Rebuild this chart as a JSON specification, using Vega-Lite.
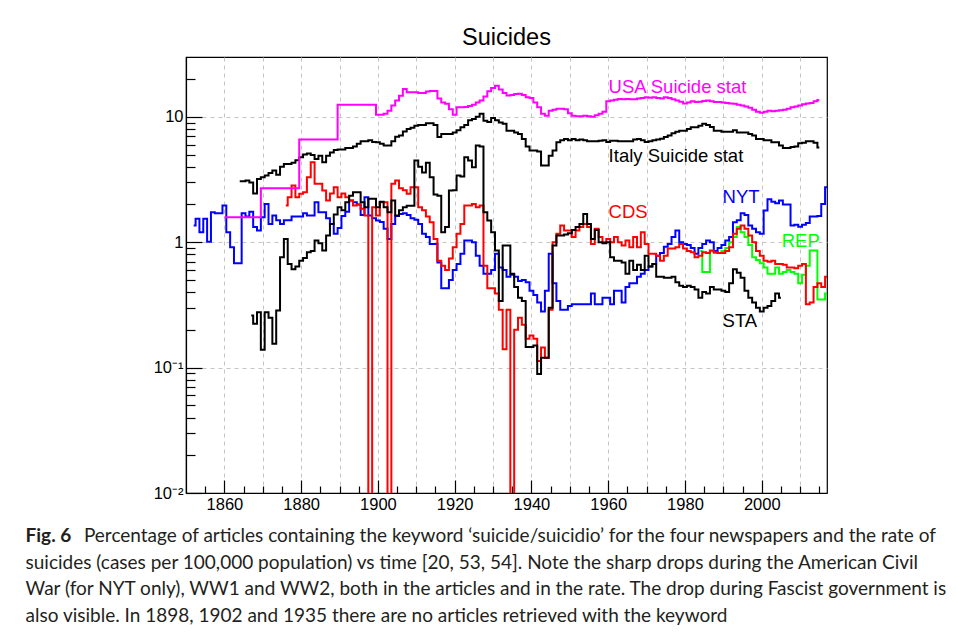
{
"$schema": "https://vega.github.io/schema/vega-lite/v6.json",
"background": "white",
"padding": {"left": 25, "top": 24, "right": 5, "bottom": 0},
"title": {
  "text": "Fig. 6",
  "subtitle": ["\u200b\u00a0\u00a0\u00a0\u00a0\u00a0\u00a0\u00a0\u00a0\u00a0\u00a0\u00a0\u00a0Percentage of articles containing the keyword \u2018suicide/suicidio\u2019 for the four newspapers and the rate of", "suicides (cases per 100,000 population) vs time [20, 53, 54]. Note the sharp drops during the American Civil", "War (for NYT only), WW1 and WW2, both in the articles and in the rate. The drop during Fascist government is", "also visible. In 1898, 1902 and 1935 there are no articles retrieved with the keyword"],
  "orient": "bottom", "anchor": "start", "frame": "bounds",
  "font": "Lato", "fontSize": 19, "fontWeight": "bold", "color": "#231f20",
  "subtitleFont": "Lato", "subtitleFontSize": 19, "subtitleFontWeight": "normal", "subtitleColor": "#231f20",
  "subtitleLineHeight": 26.7, "subtitlePadding": -19, "offset": 14, "dx": -127
},
"datasets": {
"labels": [
 {"series":"USA","label":"USA Suicide stat","year":1960.1,"value":15.4},
 {"series":"Italy","label":"Italy Suicide stat","year":1960.1,"value":4.4},
 {"series":"CDS","label":"CDS","year":1960.1,"value":1.55},
 {"series":"NYT","label":"NYT","year":1989.8,"value":2.05},
 {"series":"REP","label":"REP","year":2005.2,"value":0.912},
 {"series":"STA","label":"STA","year":1989.8,"value":0.21}
],
"curves": [
{"series":"REP","year":1984,"value":0.85},{"series":"REP","year":1985,"value":0.58},{"series":"REP","year":1986,"value":0.58},{"series":"REP","year":1987,"value":0.85},{"series":"REP","year":1988,"value":0.82},{"series":"REP","year":1989,"value":0.82},{"series":"REP","year":1990,"value":0.85},{"series":"REP","year":1991,"value":0.9},{"series":"REP","year":1992,"value":1.0},{"series":"REP","year":1993,"value":1.1},{"series":"REP","year":1994,"value":1.32},{"series":"REP","year":1995,"value":1.2},{"series":"REP","year":1996,"value":1.1},{"series":"REP","year":1997,"value":0.95},{"series":"REP","year":1998,"value":0.76},{"series":"REP","year":1999,"value":0.72},{"series":"REP","year":2000,"value":0.68},{"series":"REP","year":2001,"value":0.63},{"series":"REP","year":2002,"value":0.56},{"series":"REP","year":2003,"value":0.56},{"series":"REP","year":2004,"value":0.63},{"series":"REP","year":2005,"value":0.56},{"series":"REP","year":2006,"value":0.58},{"series":"REP","year":2007,"value":0.6},{"series":"REP","year":2008,"value":0.58},{"series":"REP","year":2009,"value":0.56},{"series":"REP","year":2010,"value":0.47},{"series":"REP","year":2011,"value":0.55},{"series":"REP","year":2012,"value":0.65},{"series":"REP","year":2013,"value":0.86},{"series":"REP","year":2014,"value":0.86},{"series":"REP","year":2015,"value":0.35},{"series":"REP","year":2016,"value":0.35},{"series":"REP","year":2017,"value":0.39},
{"series":"NYT","year":1852,"value":1.36},{"series":"NYT","year":1853,"value":1.54},{"series":"NYT","year":1854,"value":1.2},{"series":"NYT","year":1855,"value":1.54},{"series":"NYT","year":1856,"value":1.01},{"series":"NYT","year":1857,"value":1.73},{"series":"NYT","year":1858,"value":1.7},{"series":"NYT","year":1859,"value":1.7},{"series":"NYT","year":1860,"value":1.96},{"series":"NYT","year":1861,"value":1.2},{"series":"NYT","year":1862,"value":0.91},{"series":"NYT","year":1863,"value":0.68},{"series":"NYT","year":1864,"value":0.68},{"series":"NYT","year":1865,"value":1.7},{"series":"NYT","year":1866,"value":1.6},{"series":"NYT","year":1867,"value":1.75},{"series":"NYT","year":1868,"value":1.32},{"series":"NYT","year":1869,"value":1.24},{"series":"NYT","year":1870,"value":1.58},{"series":"NYT","year":1871,"value":2.02},{"series":"NYT","year":1872,"value":1.4},{"series":"NYT","year":1873,"value":1.63},{"series":"NYT","year":1874,"value":1.5},{"series":"NYT","year":1875,"value":1.4},{"series":"NYT","year":1876,"value":1.5},{"series":"NYT","year":1877,"value":1.5},{"series":"NYT","year":1878,"value":1.6},{"series":"NYT","year":1879,"value":1.6},{"series":"NYT","year":1880,"value":1.6},{"series":"NYT","year":1881,"value":1.7},{"series":"NYT","year":1882,"value":1.63},{"series":"NYT","year":1883,"value":1.63},{"series":"NYT","year":1884,"value":2.08},{"series":"NYT","year":1885,"value":1.73},{"series":"NYT","year":1886,"value":1.73},{"series":"NYT","year":1887,"value":1.55},{"series":"NYT","year":1888,"value":1.4},{"series":"NYT","year":1889,"value":1.17},{"series":"NYT","year":1890,"value":1.3},{"series":"NYT","year":1891,"value":1.62},{"series":"NYT","year":1892,"value":1.75},{"series":"NYT","year":1893,"value":2.15},{"series":"NYT","year":1894,"value":2.08},{"series":"NYT","year":1895,"value":2.0},{"series":"NYT","year":1896,"value":1.65},{"series":"NYT","year":1897,"value":2.28},{"series":"NYT","year":1898,"value":1.63},{"series":"NYT","year":1899,"value":1.55},{"series":"NYT","year":1900,"value":1.49},{"series":"NYT","year":1901,"value":1.45},{"series":"NYT","year":1902,"value":1.28},{"series":"NYT","year":1903,"value":1.06},{"series":"NYT","year":1904,"value":1.4},{"series":"NYT","year":1905,"value":1.62},{"series":"NYT","year":1906,"value":1.68},{"series":"NYT","year":1907,"value":1.7},{"series":"NYT","year":1908,"value":1.65},{"series":"NYT","year":1909,"value":1.55},{"series":"NYT","year":1910,"value":1.51},{"series":"NYT","year":1911,"value":1.4},{"series":"NYT","year":1912,"value":1.17},{"series":"NYT","year":1913,"value":1.1},{"series":"NYT","year":1914,"value":0.97},{"series":"NYT","year":1915,"value":0.97},{"series":"NYT","year":1916,"value":0.69},{"series":"NYT","year":1917,"value":0.43},{"series":"NYT","year":1918,"value":0.43},{"series":"NYT","year":1919,"value":0.5},{"series":"NYT","year":1920,"value":0.6},{"series":"NYT","year":1921,"value":0.67},{"series":"NYT","year":1922,"value":0.81},{"series":"NYT","year":1923,"value":1.03},{"series":"NYT","year":1924,"value":1.03},{"series":"NYT","year":1925,"value":1.0},{"series":"NYT","year":1926,"value":0.78},{"series":"NYT","year":1927,"value":0.65},{"series":"NYT","year":1928,"value":0.56},{"series":"NYT","year":1929,"value":0.56},{"series":"NYT","year":1930,"value":0.6},{"series":"NYT","year":1931,"value":0.81},{"series":"NYT","year":1932,"value":0.63},{"series":"NYT","year":1933,"value":0.6},{"series":"NYT","year":1934,"value":0.53},{"series":"NYT","year":1935,"value":0.55},{"series":"NYT","year":1936,"value":0.53},{"series":"NYT","year":1937,"value":0.49},{"series":"NYT","year":1938,"value":0.5},{"series":"NYT","year":1939,"value":0.48},{"series":"NYT","year":1940,"value":0.41},{"series":"NYT","year":1941,"value":0.38},{"series":"NYT","year":1942,"value":0.33},{"series":"NYT","year":1943,"value":0.28},{"series":"NYT","year":1944,"value":0.41},{"series":"NYT","year":1945,"value":0.81},{"series":"NYT","year":1946,"value":0.47},{"series":"NYT","year":1947,"value":0.34},{"series":"NYT","year":1948,"value":0.29},{"series":"NYT","year":1949,"value":0.29},{"series":"NYT","year":1950,"value":0.31},{"series":"NYT","year":1951,"value":0.32},{"series":"NYT","year":1952,"value":0.32},{"series":"NYT","year":1953,"value":0.32},{"series":"NYT","year":1954,"value":0.32},{"series":"NYT","year":1955,"value":0.32},{"series":"NYT","year":1956,"value":0.39},{"series":"NYT","year":1957,"value":0.32},{"series":"NYT","year":1958,"value":0.32},{"series":"NYT","year":1959,"value":0.36},{"series":"NYT","year":1960,"value":0.36},{"series":"NYT","year":1961,"value":0.32},{"series":"NYT","year":1962,"value":0.41},{"series":"NYT","year":1963,"value":0.41},{"series":"NYT","year":1964,"value":0.33},{"series":"NYT","year":1965,"value":0.44},{"series":"NYT","year":1966,"value":0.47},{"series":"NYT","year":1967,"value":0.47},{"series":"NYT","year":1968,"value":0.53},{"series":"NYT","year":1969,"value":0.56},{"series":"NYT","year":1970,"value":0.6},{"series":"NYT","year":1971,"value":0.64},{"series":"NYT","year":1972,"value":0.67},{"series":"NYT","year":1973,"value":0.78},{"series":"NYT","year":1974,"value":0.82},{"series":"NYT","year":1975,"value":0.92},{"series":"NYT","year":1976,"value":0.97},{"series":"NYT","year":1977,"value":1.1},{"series":"NYT","year":1978,"value":1.24},{"series":"NYT","year":1979,"value":1.0},{"series":"NYT","year":1980,"value":0.97},{"series":"NYT","year":1981,"value":0.95},{"series":"NYT","year":1982,"value":0.9},{"series":"NYT","year":1983,"value":0.81},{"series":"NYT","year":1984,"value":0.9},{"series":"NYT","year":1985,"value":0.97},{"series":"NYT","year":1986,"value":1.03},{"series":"NYT","year":1987,"value":1.0},{"series":"NYT","year":1988,"value":0.85},{"series":"NYT","year":1989,"value":0.9},{"series":"NYT","year":1990,"value":0.95},{"series":"NYT","year":1991,"value":1.03},{"series":"NYT","year":1992,"value":1.1},{"series":"NYT","year":1993,"value":1.44},{"series":"NYT","year":1994,"value":1.5},{"series":"NYT","year":1995,"value":1.7},{"series":"NYT","year":1996,"value":1.65},{"series":"NYT","year":1997,"value":1.36},{"series":"NYT","year":1998,"value":1.28},{"series":"NYT","year":1999,"value":1.2},{"series":"NYT","year":2000,"value":1.17},{"series":"NYT","year":2001,"value":1.79},{"series":"NYT","year":2002,"value":2.2},{"series":"NYT","year":2003,"value":2.1},{"series":"NYT","year":2004,"value":2.05},{"series":"NYT","year":2005,"value":2.15},{"series":"NYT","year":2006,"value":2.0},{"series":"NYT","year":2007,"value":2.0},{"series":"NYT","year":2008,"value":1.36},{"series":"NYT","year":2009,"value":1.38},{"series":"NYT","year":2010,"value":1.33},{"series":"NYT","year":2011,"value":1.38},{"series":"NYT","year":2012,"value":1.42},{"series":"NYT","year":2013,"value":1.6},{"series":"NYT","year":2014,"value":1.6},{"series":"NYT","year":2015,"value":1.62},{"series":"NYT","year":2016,"value":2.02},{"series":"NYT","year":2017,"value":2.74},
{"series":"CDS","year":1876,"value":1.96},{"series":"CDS","year":1877,"value":2.28},{"series":"CDS","year":1878,"value":2.83},{"series":"CDS","year":1879,"value":2.28},{"series":"CDS","year":1880,"value":2.43},{"series":"CDS","year":1881,"value":2.5},{"series":"CDS","year":1882,"value":3.3},{"series":"CDS","year":1883,"value":4.34},{"series":"CDS","year":1884,"value":2.92},{"series":"CDS","year":1885,"value":2.92},{"series":"CDS","year":1886,"value":2.58},{"series":"CDS","year":1887,"value":2.15},{"series":"CDS","year":1888,"value":2.45},{"series":"CDS","year":1889,"value":2.74},{"series":"CDS","year":1890,"value":2.28},{"series":"CDS","year":1891,"value":2.45},{"series":"CDS","year":1892,"value":2.28},{"series":"CDS","year":1893,"value":2.15},{"series":"CDS","year":1894,"value":1.96},{"series":"CDS","year":1895,"value":2.0},{"series":"CDS","year":1896,"value":1.85},{"series":"CDS","year":1897,"value":1.63},{"series":"CDS","year":1898,"value":0.0001},{"series":"CDS","year":1899,"value":1.9},{"series":"CDS","year":1900,"value":1.63},{"series":"CDS","year":1901,"value":2.08},{"series":"CDS","year":1902,"value":2.08},{"series":"CDS","year":1903,"value":0.0001},{"series":"CDS","year":1904,"value":2.92},{"series":"CDS","year":1905,"value":3.1},{"series":"CDS","year":1906,"value":2.7},{"series":"CDS","year":1907,"value":2.6},{"series":"CDS","year":1908,"value":2.43},{"series":"CDS","year":1909,"value":2.75},{"series":"CDS","year":1910,"value":2.75},{"series":"CDS","year":1911,"value":1.9},{"series":"CDS","year":1912,"value":1.8},{"series":"CDS","year":1913,"value":1.6},{"series":"CDS","year":1914,"value":1.44},{"series":"CDS","year":1915,"value":1.06},{"series":"CDS","year":1916,"value":0.71},{"series":"CDS","year":1917,"value":0.65},{"series":"CDS","year":1918,"value":0.6},{"series":"CDS","year":1919,"value":0.74},{"series":"CDS","year":1920,"value":0.91},{"series":"CDS","year":1921,"value":1.17},{"series":"CDS","year":1922,"value":1.4},{"series":"CDS","year":1923,"value":1.96},{"series":"CDS","year":1924,"value":1.96},{"series":"CDS","year":1925,"value":2.02},{"series":"CDS","year":1926,"value":1.9},{"series":"CDS","year":1927,"value":1.96},{"series":"CDS","year":1928,"value":0.65},{"series":"CDS","year":1929,"value":0.43},{"series":"CDS","year":1930,"value":0.43},{"series":"CDS","year":1931,"value":0.39},{"series":"CDS","year":1932,"value":0.29},{"series":"CDS","year":1933,"value":0.14},{"series":"CDS","year":1934,"value":0.29},{"series":"CDS","year":1935,"value":0.0001},{"series":"CDS","year":1936,"value":0.2},{"series":"CDS","year":1937,"value":0.25},{"series":"CDS","year":1938,"value":0.22},{"series":"CDS","year":1939,"value":0.17},{"series":"CDS","year":1940,"value":0.18},{"series":"CDS","year":1941,"value":0.17},{"series":"CDS","year":1942,"value":0.113},{"series":"CDS","year":1943,"value":0.145},{"series":"CDS","year":1944,"value":0.12},{"series":"CDS","year":1945,"value":0.29},{"series":"CDS","year":1946,"value":1.0},{"series":"CDS","year":1947,"value":1.17},{"series":"CDS","year":1948,"value":1.36},{"series":"CDS","year":1949,"value":1.24},{"series":"CDS","year":1950,"value":1.24},{"series":"CDS","year":1951,"value":1.1},{"series":"CDS","year":1952,"value":1.24},{"series":"CDS","year":1953,"value":1.32},{"series":"CDS","year":1954,"value":1.4},{"series":"CDS","year":1955,"value":1.32},{"series":"CDS","year":1956,"value":0.97},{"series":"CDS","year":1957,"value":1.28},{"series":"CDS","year":1958,"value":1.1},{"series":"CDS","year":1959,"value":1.0},{"series":"CDS","year":1960,"value":1.06},{"series":"CDS","year":1961,"value":1.0},{"series":"CDS","year":1962,"value":1.1},{"series":"CDS","year":1963,"value":1.0},{"series":"CDS","year":1964,"value":0.94},{"series":"CDS","year":1965,"value":1.03},{"series":"CDS","year":1966,"value":0.91},{"series":"CDS","year":1967,"value":1.1},{"series":"CDS","year":1968,"value":0.91},{"series":"CDS","year":1969,"value":1.2},{"series":"CDS","year":1970,"value":0.97},{"series":"CDS","year":1971,"value":0.81},{"series":"CDS","year":1972,"value":0.81},{"series":"CDS","year":1973,"value":0.78},{"series":"CDS","year":1974,"value":0.71},{"series":"CDS","year":1975,"value":0.78},{"series":"CDS","year":1976,"value":0.89},{"series":"CDS","year":1977,"value":0.89},{"series":"CDS","year":1978,"value":0.91},{"series":"CDS","year":1979,"value":0.97},{"series":"CDS","year":1980,"value":0.89},{"series":"CDS","year":1981,"value":0.85},{"series":"CDS","year":1982,"value":0.83},{"series":"CDS","year":1983,"value":0.76},{"series":"CDS","year":1984,"value":0.78},{"series":"CDS","year":1985,"value":0.83},{"series":"CDS","year":1986,"value":0.82},{"series":"CDS","year":1987,"value":0.86},{"series":"CDS","year":1988,"value":0.83},{"series":"CDS","year":1989,"value":0.82},{"series":"CDS","year":1990,"value":0.82},{"series":"CDS","year":1991,"value":0.85},{"series":"CDS","year":1992,"value":0.91},{"series":"CDS","year":1993,"value":1.17},{"series":"CDS","year":1994,"value":1.28},{"series":"CDS","year":1995,"value":1.36},{"series":"CDS","year":1996,"value":1.28},{"series":"CDS","year":1997,"value":1.13},{"series":"CDS","year":1998,"value":1.0},{"series":"CDS","year":1999,"value":0.85},{"series":"CDS","year":2000,"value":0.78},{"series":"CDS","year":2001,"value":0.71},{"series":"CDS","year":2002,"value":0.7},{"series":"CDS","year":2003,"value":0.71},{"series":"CDS","year":2004,"value":0.67},{"series":"CDS","year":2005,"value":0.67},{"series":"CDS","year":2006,"value":0.66},{"series":"CDS","year":2007,"value":0.63},{"series":"CDS","year":2008,"value":0.63},{"series":"CDS","year":2009,"value":0.62},{"series":"CDS","year":2010,"value":0.65},{"series":"CDS","year":2011,"value":0.67},{"series":"CDS","year":2012,"value":0.32},{"series":"CDS","year":2013,"value":0.33},{"series":"CDS","year":2014,"value":0.44},{"series":"CDS","year":2015,"value":0.47},{"series":"CDS","year":2016,"value":0.44},{"series":"CDS","year":2017,"value":0.53},
{"series":"STA","year":1867,"value":0.26},{"series":"STA","year":1868,"value":0.224},{"series":"STA","year":1869,"value":0.277},{"series":"STA","year":1870,"value":0.139},{"series":"STA","year":1871,"value":0.277},{"series":"STA","year":1872,"value":0.25},{"series":"STA","year":1873,"value":0.155},{"series":"STA","year":1874,"value":0.286},{"series":"STA","year":1875,"value":0.76},{"series":"STA","year":1876,"value":1.06},{"series":"STA","year":1877,"value":0.67},{"series":"STA","year":1878,"value":0.61},{"series":"STA","year":1879,"value":0.64},{"series":"STA","year":1880,"value":0.71},{"series":"STA","year":1881,"value":0.75},{"series":"STA","year":1882,"value":0.83},{"series":"STA","year":1883,"value":0.85},{"series":"STA","year":1884,"value":1.03},{"series":"STA","year":1885,"value":0.98},{"series":"STA","year":1886,"value":0.86},{"series":"STA","year":1887,"value":1.13},{"series":"STA","year":1888,"value":1.4},{"series":"STA","year":1889,"value":1.66},{"series":"STA","year":1890,"value":1.9},{"series":"STA","year":1891,"value":1.8},{"series":"STA","year":1892,"value":2.08},{"series":"STA","year":1893,"value":2.35},{"series":"STA","year":1894,"value":2.5},{"series":"STA","year":1895,"value":2.5},{"series":"STA","year":1896,"value":2.08},{"series":"STA","year":1897,"value":1.9},{"series":"STA","year":1898,"value":2.22},{"series":"STA","year":1899,"value":2.22},{"series":"STA","year":1900,"value":1.9},{"series":"STA","year":1901,"value":2.1},{"series":"STA","year":1902,"value":1.9},{"series":"STA","year":1903,"value":1.73},{"series":"STA","year":1904,"value":2.15},{"series":"STA","year":1905,"value":1.63},{"series":"STA","year":1906,"value":1.8},{"series":"STA","year":1907,"value":1.9},{"series":"STA","year":1908,"value":1.95},{"series":"STA","year":1909,"value":1.95},{"series":"STA","year":1910,"value":4.48},{"series":"STA","year":1911,"value":4.0},{"series":"STA","year":1912,"value":3.6},{"series":"STA","year":1913,"value":4.3},{"series":"STA","year":1914,"value":3.3},{"series":"STA","year":1915,"value":2.4},{"series":"STA","year":1916,"value":2.35},{"series":"STA","year":1917,"value":1.2},{"series":"STA","year":1918,"value":1.32},{"series":"STA","year":1919,"value":2.58},{"series":"STA","year":1920,"value":2.6},{"series":"STA","year":1921,"value":3.4},{"series":"STA","year":1922,"value":3.35},{"series":"STA","year":1923,"value":4.76},{"series":"STA","year":1924,"value":4.48},{"series":"STA","year":1925,"value":3.96},{"series":"STA","year":1926,"value":5.9},{"series":"STA","year":1927,"value":5.8},{"series":"STA","year":1928,"value":1.73},{"series":"STA","year":1929,"value":1.49},{"series":"STA","year":1930,"value":1.2},{"series":"STA","year":1931,"value":0.86},{"series":"STA","year":1932,"value":0.34},{"series":"STA","year":1933,"value":0.94},{"series":"STA","year":1934,"value":0.94},{"series":"STA","year":1935,"value":0.56},{"series":"STA","year":1936,"value":0.44},{"series":"STA","year":1937,"value":0.36},{"series":"STA","year":1938,"value":0.34},{"series":"STA","year":1939,"value":0.146},{"series":"STA","year":1940,"value":0.146},{"series":"STA","year":1941,"value":0.15},{"series":"STA","year":1942,"value":0.089},{"series":"STA","year":1943,"value":0.12},{"series":"STA","year":1944,"value":0.12},{"series":"STA","year":1945,"value":0.3},{"series":"STA","year":1946,"value":0.94},{"series":"STA","year":1947,"value":1.13},{"series":"STA","year":1948,"value":1.13},{"series":"STA","year":1949,"value":1.15},{"series":"STA","year":1950,"value":1.18},{"series":"STA","year":1951,"value":1.25},{"series":"STA","year":1952,"value":1.32},{"series":"STA","year":1953,"value":1.4},{"series":"STA","year":1954,"value":1.68},{"series":"STA","year":1955,"value":1.4},{"series":"STA","year":1956,"value":1.06},{"series":"STA","year":1957,"value":1.25},{"series":"STA","year":1958,"value":1.0},{"series":"STA","year":1959,"value":0.98},{"series":"STA","year":1960,"value":1.0},{"series":"STA","year":1961,"value":0.76},{"series":"STA","year":1962,"value":0.71},{"series":"STA","year":1963,"value":0.71},{"series":"STA","year":1964,"value":0.69},{"series":"STA","year":1965,"value":0.56},{"series":"STA","year":1966,"value":0.71},{"series":"STA","year":1967,"value":0.6},{"series":"STA","year":1968,"value":0.66},{"series":"STA","year":1969,"value":0.6},{"series":"STA","year":1970,"value":0.78},{"series":"STA","year":1971,"value":0.64},{"series":"STA","year":1972,"value":0.67},{"series":"STA","year":1973,"value":0.53},{"series":"STA","year":1974,"value":0.53},{"series":"STA","year":1975,"value":0.52},{"series":"STA","year":1976,"value":0.52},{"series":"STA","year":1977,"value":0.53},{"series":"STA","year":1978,"value":0.48},{"series":"STA","year":1979,"value":0.45},{"series":"STA","year":1980,"value":0.44},{"series":"STA","year":1981,"value":0.45},{"series":"STA","year":1982,"value":0.44},{"series":"STA","year":1983,"value":0.42},{"series":"STA","year":1984,"value":0.36},{"series":"STA","year":1985,"value":0.4},{"series":"STA","year":1986,"value":0.39},{"series":"STA","year":1987,"value":0.44},{"series":"STA","year":1988,"value":0.42},{"series":"STA","year":1989,"value":0.42},{"series":"STA","year":1990,"value":0.41},{"series":"STA","year":1991,"value":0.4},{"series":"STA","year":1992,"value":0.47},{"series":"STA","year":1993,"value":0.61},{"series":"STA","year":1994,"value":0.57},{"series":"STA","year":1995,"value":0.52},{"series":"STA","year":1996,"value":0.41},{"series":"STA","year":1997,"value":0.36},{"series":"STA","year":1998,"value":0.33},{"series":"STA","year":1999,"value":0.3},{"series":"STA","year":2000,"value":0.28},{"series":"STA","year":2001,"value":0.3},{"series":"STA","year":2002,"value":0.31},{"series":"STA","year":2003,"value":0.34},{"series":"STA","year":2004,"value":0.39},{"series":"STA","year":2005,"value":0.36},
{"series":"Italy","year":1864,"value":3.06},{"series":"Italy","year":1865,"value":3.06},{"series":"Italy","year":1866,"value":3.1},{"series":"Italy","year":1867,"value":3.0},{"series":"Italy","year":1868,"value":2.45},{"series":"Italy","year":1869,"value":3.2},{"series":"Italy","year":1870,"value":3.3},{"series":"Italy","year":1871,"value":3.4},{"series":"Italy","year":1872,"value":3.57},{"series":"Italy","year":1873,"value":3.73},{"series":"Italy","year":1874,"value":3.45},{"series":"Italy","year":1875,"value":4.0},{"series":"Italy","year":1876,"value":4.2},{"series":"Italy","year":1877,"value":4.2},{"series":"Italy","year":1878,"value":4.3},{"series":"Italy","year":1879,"value":4.5},{"series":"Italy","year":1880,"value":4.76},{"series":"Italy","year":1881,"value":5.0},{"series":"Italy","year":1882,"value":5.1},{"series":"Italy","year":1883,"value":4.97},{"series":"Italy","year":1884,"value":4.6},{"series":"Italy","year":1885,"value":4.9},{"series":"Italy","year":1886,"value":4.34},{"series":"Italy","year":1887,"value":4.9},{"series":"Italy","year":1888,"value":5.2},{"series":"Italy","year":1889,"value":5.45},{"series":"Italy","year":1890,"value":5.5},{"series":"Italy","year":1891,"value":5.5},{"series":"Italy","year":1892,"value":5.65},{"series":"Italy","year":1893,"value":5.65},{"series":"Italy","year":1894,"value":5.8},{"series":"Italy","year":1895,"value":6.1},{"series":"Italy","year":1896,"value":6.4},{"series":"Italy","year":1897,"value":6.4},{"series":"Italy","year":1898,"value":6.5},{"series":"Italy","year":1899,"value":6.3},{"series":"Italy","year":1900,"value":6.27},{"series":"Italy","year":1901,"value":6.1},{"series":"Italy","year":1902,"value":5.9},{"series":"Italy","year":1903,"value":5.9},{"series":"Italy","year":1904,"value":6.4},{"series":"Italy","year":1905,"value":6.95},{"series":"Italy","year":1906,"value":7.1},{"series":"Italy","year":1907,"value":7.65},{"series":"Italy","year":1908,"value":8.0},{"series":"Italy","year":1909,"value":8.2},{"series":"Italy","year":1910,"value":8.5},{"series":"Italy","year":1911,"value":8.6},{"series":"Italy","year":1912,"value":8.6},{"series":"Italy","year":1913,"value":8.9},{"series":"Italy","year":1914,"value":8.9},{"series":"Italy","year":1915,"value":8.6},{"series":"Italy","year":1916,"value":6.9},{"series":"Italy","year":1917,"value":7.3},{"series":"Italy","year":1918,"value":7.3},{"series":"Italy","year":1919,"value":7.3},{"series":"Italy","year":1920,"value":7.5},{"series":"Italy","year":1921,"value":7.8},{"series":"Italy","year":1922,"value":8.25},{"series":"Italy","year":1923,"value":8.6},{"series":"Italy","year":1924,"value":9.4},{"series":"Italy","year":1925,"value":9.6},{"series":"Italy","year":1926,"value":10.0},{"series":"Italy","year":1927,"value":10.6},{"series":"Italy","year":1928,"value":9.3},{"series":"Italy","year":1929,"value":9.1},{"series":"Italy","year":1930,"value":9.8},{"series":"Italy","year":1931,"value":9.4},{"series":"Italy","year":1932,"value":9.0},{"series":"Italy","year":1933,"value":8.8},{"series":"Italy","year":1934,"value":7.75},{"series":"Italy","year":1935,"value":7.75},{"series":"Italy","year":1936,"value":7.5},{"series":"Italy","year":1937,"value":7.3},{"series":"Italy","year":1938,"value":6.65},{"series":"Italy","year":1939,"value":5.8},{"series":"Italy","year":1940,"value":5.4},{"series":"Italy","year":1941,"value":5.4},{"series":"Italy","year":1942,"value":5.3},{"series":"Italy","year":1943,"value":4.1},{"series":"Italy","year":1944,"value":4.1},{"series":"Italy","year":1945,"value":4.9},{"series":"Italy","year":1946,"value":5.4},{"series":"Italy","year":1947,"value":6.27},{"series":"Italy","year":1948,"value":6.5},{"series":"Italy","year":1949,"value":6.67},{"series":"Italy","year":1950,"value":6.5},{"series":"Italy","year":1951,"value":6.67},{"series":"Italy","year":1952,"value":6.5},{"series":"Italy","year":1953,"value":6.6},{"series":"Italy","year":1954,"value":6.5},{"series":"Italy","year":1955,"value":6.4},{"series":"Italy","year":1956,"value":6.4},{"series":"Italy","year":1957,"value":6.4},{"series":"Italy","year":1958,"value":6.45},{"series":"Italy","year":1959,"value":6.5},{"series":"Italy","year":1960,"value":6.3},{"series":"Italy","year":1961,"value":6.45},{"series":"Italy","year":1962,"value":6.45},{"series":"Italy","year":1963,"value":6.4},{"series":"Italy","year":1964,"value":6.4},{"series":"Italy","year":1965,"value":6.4},{"series":"Italy","year":1966,"value":6.4},{"series":"Italy","year":1967,"value":6.6},{"series":"Italy","year":1968,"value":6.67},{"series":"Italy","year":1969,"value":6.5},{"series":"Italy","year":1970,"value":6.3},{"series":"Italy","year":1971,"value":6.4},{"series":"Italy","year":1972,"value":6.5},{"series":"Italy","year":1973,"value":6.6},{"series":"Italy","year":1974,"value":6.7},{"series":"Italy","year":1975,"value":6.9},{"series":"Italy","year":1976,"value":7.1},{"series":"Italy","year":1977,"value":7.4},{"series":"Italy","year":1978,"value":7.6},{"series":"Italy","year":1979,"value":7.75},{"series":"Italy","year":1980,"value":7.75},{"series":"Italy","year":1981,"value":8.0},{"series":"Italy","year":1982,"value":8.25},{"series":"Italy","year":1983,"value":8.25},{"series":"Italy","year":1984,"value":8.5},{"series":"Italy","year":1985,"value":8.8},{"series":"Italy","year":1986,"value":8.6},{"series":"Italy","year":1987,"value":8.3},{"series":"Italy","year":1988,"value":7.75},{"series":"Italy","year":1989,"value":7.75},{"series":"Italy","year":1990,"value":7.6},{"series":"Italy","year":1991,"value":7.6},{"series":"Italy","year":1992,"value":7.6},{"series":"Italy","year":1993,"value":7.8},{"series":"Italy","year":1994,"value":7.5},{"series":"Italy","year":1995,"value":7.5},{"series":"Italy","year":1996,"value":7.5},{"series":"Italy","year":1997,"value":7.3},{"series":"Italy","year":1998,"value":7.1},{"series":"Italy","year":1999,"value":6.67},{"series":"Italy","year":2000,"value":6.67},{"series":"Italy","year":2001,"value":6.5},{"series":"Italy","year":2002,"value":6.5},{"series":"Italy","year":2003,"value":6.27},{"series":"Italy","year":2004,"value":6.27},{"series":"Italy","year":2005,"value":5.9},{"series":"Italy","year":2006,"value":5.65},{"series":"Italy","year":2007,"value":5.65},{"series":"Italy","year":2008,"value":5.75},{"series":"Italy","year":2009,"value":5.8},{"series":"Italy","year":2010,"value":6.15},{"series":"Italy","year":2011,"value":6.2},{"series":"Italy","year":2012,"value":6.4},{"series":"Italy","year":2013,"value":6.4},{"series":"Italy","year":2014,"value":6.2},{"series":"Italy","year":2015,"value":5.7},
{"series":"USA","year":1860,"value":1.58},{"series":"USA","year":1861,"value":1.58},{"series":"USA","year":1862,"value":1.58},{"series":"USA","year":1863,"value":1.58},{"series":"USA","year":1864,"value":1.58},{"series":"USA","year":1865,"value":1.58},{"series":"USA","year":1866,"value":1.58},{"series":"USA","year":1867,"value":1.58},{"series":"USA","year":1868,"value":1.58},{"series":"USA","year":1869,"value":1.58},{"series":"USA","year":1870,"value":2.69},{"series":"USA","year":1871,"value":2.69},{"series":"USA","year":1872,"value":2.69},{"series":"USA","year":1873,"value":2.69},{"series":"USA","year":1874,"value":2.69},{"series":"USA","year":1875,"value":2.69},{"series":"USA","year":1876,"value":2.69},{"series":"USA","year":1877,"value":2.69},{"series":"USA","year":1878,"value":2.69},{"series":"USA","year":1879,"value":2.69},{"series":"USA","year":1880,"value":6.6},{"series":"USA","year":1881,"value":6.6},{"series":"USA","year":1882,"value":6.6},{"series":"USA","year":1883,"value":6.6},{"series":"USA","year":1884,"value":6.6},{"series":"USA","year":1885,"value":6.6},{"series":"USA","year":1886,"value":6.6},{"series":"USA","year":1887,"value":6.6},{"series":"USA","year":1888,"value":6.6},{"series":"USA","year":1889,"value":6.6},{"series":"USA","year":1890,"value":12.5},{"series":"USA","year":1891,"value":12.5},{"series":"USA","year":1892,"value":12.5},{"series":"USA","year":1893,"value":12.5},{"series":"USA","year":1894,"value":12.5},{"series":"USA","year":1895,"value":12.5},{"series":"USA","year":1896,"value":12.5},{"series":"USA","year":1897,"value":12.5},{"series":"USA","year":1898,"value":12.5},{"series":"USA","year":1899,"value":12.5},{"series":"USA","year":1900,"value":10.4},{"series":"USA","year":1901,"value":10.4},{"series":"USA","year":1902,"value":10.6},{"series":"USA","year":1903,"value":11.2},{"series":"USA","year":1904,"value":12.3},{"series":"USA","year":1905,"value":13.5},{"series":"USA","year":1906,"value":14.7},{"series":"USA","year":1907,"value":16.7},{"series":"USA","year":1908,"value":15.7},{"series":"USA","year":1909,"value":15.7},{"series":"USA","year":1910,"value":15.7},{"series":"USA","year":1911,"value":15.5},{"series":"USA","year":1912,"value":15.5},{"series":"USA","year":1913,"value":15.9},{"series":"USA","year":1914,"value":16.1},{"series":"USA","year":1915,"value":16.1},{"series":"USA","year":1916,"value":14.0},{"series":"USA","year":1917,"value":13.0},{"series":"USA","year":1918,"value":12.7},{"series":"USA","year":1919,"value":11.5},{"series":"USA","year":1920,"value":10.4},{"series":"USA","year":1921,"value":11.9},{"series":"USA","year":1922,"value":11.9},{"series":"USA","year":1923,"value":12.0},{"series":"USA","year":1924,"value":12.2},{"series":"USA","year":1925,"value":12.5},{"series":"USA","year":1926,"value":13.0},{"series":"USA","year":1927,"value":13.5},{"series":"USA","year":1928,"value":14.5},{"series":"USA","year":1929,"value":16.0},{"series":"USA","year":1930,"value":17.0},{"series":"USA","year":1931,"value":17.7},{"series":"USA","year":1932,"value":16.5},{"series":"USA","year":1933,"value":15.5},{"series":"USA","year":1934,"value":14.8},{"series":"USA","year":1935,"value":14.9},{"series":"USA","year":1936,"value":15.2},{"series":"USA","year":1937,"value":15.3},{"series":"USA","year":1938,"value":14.9},{"series":"USA","year":1939,"value":14.3},{"series":"USA","year":1940,"value":14.1},{"series":"USA","year":1941,"value":13.0},{"series":"USA","year":1942,"value":11.9},{"series":"USA","year":1943,"value":10.6},{"series":"USA","year":1944,"value":10.2},{"series":"USA","year":1945,"value":11.2},{"series":"USA","year":1946,"value":11.4},{"series":"USA","year":1947,"value":11.6},{"series":"USA","year":1948,"value":11.6},{"series":"USA","year":1949,"value":11.5},{"series":"USA","year":1950,"value":10.7},{"series":"USA","year":1951,"value":10.2},{"series":"USA","year":1952,"value":10.1},{"series":"USA","year":1953,"value":10.1},{"series":"USA","year":1954,"value":10.2},{"series":"USA","year":1955,"value":10.1},{"series":"USA","year":1956,"value":10.0},{"series":"USA","year":1957,"value":10.3},{"series":"USA","year":1958,"value":10.6},{"series":"USA","year":1959,"value":11.0},{"series":"USA","year":1960,"value":13.3},{"series":"USA","year":1961,"value":13.5},{"series":"USA","year":1962,"value":13.7},{"series":"USA","year":1963,"value":13.9},{"series":"USA","year":1964,"value":13.8},{"series":"USA","year":1965,"value":13.9},{"series":"USA","year":1966,"value":13.8},{"series":"USA","year":1967,"value":13.8},{"series":"USA","year":1968,"value":14.0},{"series":"USA","year":1969,"value":14.1},{"series":"USA","year":1970,"value":14.3},{"series":"USA","year":1971,"value":14.2},{"series":"USA","year":1972,"value":14.3},{"series":"USA","year":1973,"value":14.1},{"series":"USA","year":1974,"value":14.0},{"series":"USA","year":1975,"value":14.3},{"series":"USA","year":1976,"value":14.1},{"series":"USA","year":1977,"value":13.8},{"series":"USA","year":1978,"value":13.5},{"series":"USA","year":1979,"value":13.2},{"series":"USA","year":1980,"value":12.8},{"series":"USA","year":1981,"value":13.0},{"series":"USA","year":1982,"value":13.3},{"series":"USA","year":1983,"value":13.1},{"series":"USA","year":1984,"value":13.2},{"series":"USA","year":1985,"value":13.4},{"series":"USA","year":1986,"value":13.5},{"series":"USA","year":1987,"value":13.3},{"series":"USA","year":1988,"value":13.1},{"series":"USA","year":1989,"value":13.1},{"series":"USA","year":1990,"value":13.0},{"series":"USA","year":1991,"value":12.9},{"series":"USA","year":1992,"value":12.8},{"series":"USA","year":1993,"value":12.7},{"series":"USA","year":1994,"value":12.5},{"series":"USA","year":1995,"value":12.3},{"series":"USA","year":1996,"value":12.1},{"series":"USA","year":1997,"value":11.8},{"series":"USA","year":1998,"value":11.4},{"series":"USA","year":1999,"value":11.0},{"series":"USA","year":2000,"value":10.8},{"series":"USA","year":2001,"value":11.0},{"series":"USA","year":2002,"value":11.2},{"series":"USA","year":2003,"value":11.1},{"series":"USA","year":2004,"value":11.2},{"series":"USA","year":2005,"value":11.3},{"series":"USA","year":2006,"value":11.4},{"series":"USA","year":2007,"value":11.6},{"series":"USA","year":2008,"value":11.9},{"series":"USA","year":2009,"value":12.1},{"series":"USA","year":2010,"value":12.3},{"series":"USA","year":2011,"value":12.6},{"series":"USA","year":2012,"value":12.8},{"series":"USA","year":2013,"value":12.9},{"series":"USA","year":2014,"value":13.3},{"series":"USA","year":2015,"value":13.6}
]
},
"vconcat": [{
  "width": 641,
  "height": 436,
  "title": {"text": "Suicides", "font": "Liberation Sans", "fontSize": 23.5, "fontWeight": "normal", "color": "#000", "anchor": "middle", "baseline": "alphabetic", "offset": -11},
  "resolve": {"axis": {"x": "independent", "y": "independent"}},
  "layer": [
    {
      "data": {"name": "curves"},
      "mark": {"type": "line", "interpolate": "step", "strokeWidth": 2, "clip": true},
      "encoding": {
        "x": {"field": "year", "type": "quantitative",
          "scale": {"domain": [1850, 2017], "nice": false, "zero": false},
          "axis": {
            "orient": "bottom", "title": null, "format": "d",
            "values": [1860,1870,1880,1890,1900,1910,1920,1930,1940,1950,1960,1970,1980,1990,2000,2010],
            "labelExpr": "datum.value % 20 === 0 ? datum.label : ''",
            "tickSize": -13,
            "tickOpacity": {"condition": {"test": "datum.value % 20 === 0", "value": 1}, "value": 0},
            "labelPadding": 16,
            "grid": true,
            "labelOverlap": false, "labelFlush": false, "labelBound": false
          }},
        "y": {"field": "value", "type": "quantitative",
          "scale": {"type": "log", "domain": [0.01, 30], "nice": false},
          "axis": {
            "orient": "left", "title": null,
            "values": [0.01, 0.1, 1, 10],
            "labelExpr": "datum.value === 10 ? '10' : datum.value === 1 ? '1' : datum.value === 0.1 ? '10\u207b\u00b9' : '10\u207b\u00b2'",
            "tickSize": -16,
            "labelPadding": 19,
            "grid": true,
            "labelOverlap": false, "labelFlush": false, "labelBound": false
          }},
        "color": {"field": "series", "type": "nominal",
          "scale": {"domain": ["REP","NYT","CDS","STA","Italy","USA"], "range": ["#00ff00","#0000ff","#ff0000","#000000","#000000","#ff00ff"]},
          "legend": null}
      }
    },
    {
      "data": {"name": "labels"},
      "mark": {"type": "text", "align": "left", "baseline": "alphabetic", "font": "Liberation Sans", "fontSize": 18.5},
      "encoding": {
        "x": {"field": "year", "type": "quantitative",
          "axis": {"orient": "bottom", "title": null, "labels": false, "domain": false, "grid": false, "tickSize": -7,
            "values": [1855,1865,1870,1875,1885,1890,1895,1905,1910,1915,1925,1930,1935,1945,1950,1955,1965,1970,1975,1985,1990,1995,2005,2010,2015]}},
        "y": {"field": "value", "type": "quantitative",
          "axis": {"orient": "left", "title": null, "labels": false, "domain": false, "grid": false, "tickSize": -9,
            "values": [0.02,0.03,0.04,0.05,0.06,0.07,0.08,0.09,0.2,0.3,0.4,0.5,0.6,0.7,0.8,0.9,2,3,4,5,6,7,8,9,20]}},
        "text": {"field": "label"},
        "color": {"field": "series", "type": "nominal"}
      }
    }
  ]
}],
"config": {
  "view": {"stroke": "#000", "strokeWidth": 1.2},
  "axis": {"domainColor": "#000", "domainWidth": 1.2, "tickColor": "#000", "tickWidth": 1.2, "labelColor": "#000", "labelFont": "Liberation Sans", "labelFontSize": 16.5, "gridColor": "#c4c4c4", "gridDash": [4, 4], "gridWidth": 1}
}
}
